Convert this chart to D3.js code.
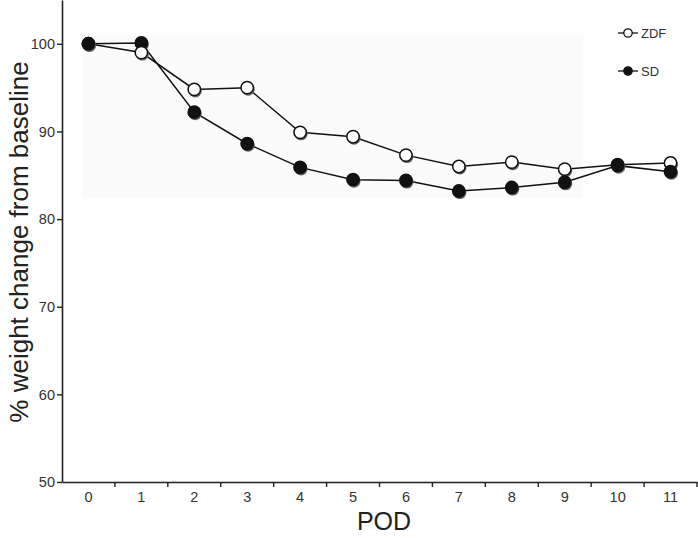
<!DOCTYPE html>
<html><head><meta charset="utf-8">
<script src="https://cdn.jsdelivr.net/npm/d3@7"></script>
<style>html,body{margin:0;padding:0;background:#fff}svg{display:block}</style>
</head><body>
<script>
const categories = ["0","1","2","3","4","5","6","7","8","9","10","11"];
const zdf = [100, 99.0, 94.8, 95.0, 89.9, 89.4, 87.3, 86.0, 86.5, 85.7, 86.2, 86.4];
const sd  = [100, 100.1, 92.2, 88.6, 85.9, 84.5, 84.4, 83.2, 83.6, 84.2, 86.1, 85.4];
const yTicks = [50, 60, 70, 80, 90, 100];
const seriesNames = ["ZDF", "SD"];

const W = 698, H = 538;
const svg = d3.select("body").append("svg").attr("width", W).attr("height", H);

const x = d3.scaleBand().domain(categories).range([62, 697]).padding(0);
const y = d3.scaleLinear().domain([50, 105]).range([482, 0]);

// faint background panel
svg.append("rect").attr("x", x("0") + 21).attr("y", y(101.0))
  .attr("width", x("9") + x.bandwidth() - 8 - (x("0") + 21))
  .attr("height", y(82.4) - y(101.0)).attr("fill", "#fbfbfb");

const axisColor = "#222";
// Y axis
const yAxis = svg.append("g").attr("transform", "translate(62,0)")
  .call(d3.axisLeft(y).tickValues(yTicks).tickSize(5).tickSizeOuter(0));
yAxis.select(".domain").attr("stroke", axisColor).attr("stroke-width", 1.6);
yAxis.selectAll(".tick line").attr("stroke", axisColor).attr("stroke-width", 1.4);
yAxis.selectAll(".tick text").attr("font-family", "Liberation Sans, Arial, sans-serif")
  .attr("font-size", 14.5).attr("fill", "#333").attr("x", -7);

// X axis
const xAxis = svg.append("g").attr("transform", "translate(0,482)")
  .call(d3.axisBottom(x).tickSize(0).tickSizeOuter(0));
xAxis.select(".domain").attr("stroke", axisColor).attr("stroke-width", 1.6);
xAxis.selectAll(".tick text").attr("font-family", "Liberation Sans, Arial, sans-serif")
  .attr("font-size", 14.5).attr("fill", "#333").attr("y", 10);
xAxis.selectAll(".bt").data(categories).enter().append("line")
  .attr("x1", d => x(d) + x.bandwidth()).attr("x2", d => x(d) + x.bandwidth())
  .attr("y1", 0).attr("y2", 5).attr("stroke", axisColor).attr("stroke-width", 1.4);

// Axis titles
svg.append("text").attr("transform", "translate(28,242) rotate(-90)")
  .attr("text-anchor", "middle").attr("font-family", "Liberation Sans, Arial, sans-serif")
  .attr("font-size", 26).attr("fill", "#222").text("% weight change from baseline");
svg.append("text").attr("x", 384).attr("y", 530).attr("text-anchor", "middle")
  .attr("font-family", "Liberation Sans, Arial, sans-serif")
  .attr("font-size", 25).attr("fill", "#222").text("POD");

// Lines
const line = d3.line().x((d, i) => x(categories[i]) + x.bandwidth() / 2).y(d => y(d));
[zdf, sd].forEach(s => {
  svg.append("path").datum(s).attr("d", line).attr("fill", "none")
    .attr("stroke", "#111").attr("stroke-width", 1.5);
});

// Markers: lower values drawn on top
const pts = [];
zdf.forEach((v, i) => pts.push({v, i, s: "ZDF"}));
sd.forEach((v, i) => pts.push({v, i, s: "SD"}));
pts.sort((a, b) => b.v - a.v || (a.s === "ZDF" ? -1 : 1));
const mg = svg.append("g");
pts.forEach(p => {
  const cx = x(categories[p.i]) + x.bandwidth() / 2, cy = y(p.v);
  mg.append("circle").attr("cx", cx + 1).attr("cy", cy + 1.5).attr("r", 6.5).attr("fill", "#666");
  mg.append("circle").attr("cx", cx).attr("cy", cy).attr("r", 6.2)
    .attr("fill", p.s === "ZDF" ? "#fff" : "#111").attr("stroke", "#111").attr("stroke-width", 1.5);
});

// Legend
const lg = svg.append("g");
seriesNames.forEach((n, k) => {
  const ly = 33 + k * 38;
  lg.append("line").attr("x1", 618).attr("x2", 638).attr("y1", ly).attr("y2", ly)
    .attr("stroke", "#111").attr("stroke-width", 1.3);
  lg.append("circle").attr("cx", 628).attr("cy", ly).attr("r", 4.2)
    .attr("fill", n === "ZDF" ? "#fff" : "#111").attr("stroke", "#111").attr("stroke-width", 1.3);
  lg.append("text").attr("x", 641).attr("y", ly + 4.5)
    .attr("font-family", "Liberation Sans, Arial, sans-serif").attr("font-size", 13)
    .attr("fill", "#333").text(n);
});
</script>
</body></html>
